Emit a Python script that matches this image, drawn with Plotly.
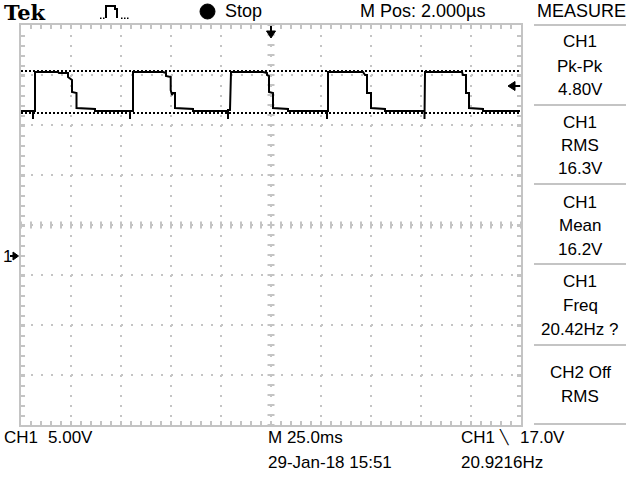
import plotly.graph_objects as go

# CH1 trace: time (ms from left edge of screen), volts (ground = 0 V)
wave_t = [0, 6.0, 6.0, 6.0, 7.0, 7.0, 18.5, 19.0, 23.5, 23.5, 25.5, 25.5, 27.75, 27.75, 37.0, 37.0,
          54.5, 54.5, 54.5, 56.0, 56.0,
          71.0, 72.5, 72.5, 74.85, 74.85, 75.5, 76.0, 77.0, 77.0, 86.0, 86.0,
          103.5, 103.5, 103.5, 104.5, 105.0,
          121.0, 123.0, 123.0, 124.0, 124.0, 125.5, 126.0, 126.0, 133.5, 133.5,
          153.0, 153.0, 153.0, 153.5, 153.5,
          171.0, 172.0, 173.0, 173.0, 174.5, 175.0, 175.0, 182.0, 182.0,
          201.75, 201.75, 201.75, 202.0, 202.0,
          220.5, 221.0, 222.5, 222.5, 223.5, 224.0, 224.0, 231.0, 231.0, 249.5]
wave_v = [14.5, 14.5, 13.7, 14.5, 14.5, 18.4, 18.4, 18.3, 18.3, 17.9, 17.6, 16.4, 16.3, 14.8, 14.7, 14.5,
          14.5, 13.7, 14.5, 14.5, 18.4,
          18.4, 18.3, 18.0, 17.9, 16.6, 16.1, 16.3, 16.3, 14.8, 14.7, 14.5,
          14.5, 13.7, 14.6, 14.6, 18.4,
          18.4, 18.3, 18.1, 18.0, 16.4, 16.3, 16.3, 14.8, 14.7, 14.5,
          14.5, 13.7, 14.5, 14.5, 18.4,
          18.4, 18.1, 18.1, 16.3, 16.3, 16.3, 14.8, 14.7, 14.5,
          14.5, 13.7, 14.5, 14.5, 18.4,
          18.4, 18.1, 18.1, 16.3, 16.3, 16.3, 14.8, 14.7, 14.5, 14.5]

cursor_levels = [18.5, 14.3]          # horizontal cursors (V)
trigger_time = 125.0                  # ms (screen centre)
trigger_level = 17.0                  # V
ground_level = 0.0                    # V

volts_per_div = 5.0
ms_per_div = 25.0
screen_ms = [0, 250]
screen_v = [-16.9, 23.1]

measure_titles = ["CH1", "CH1", "CH1", "CH1", "CH2 Off"]
measure_names = ["Pk-Pk", "RMS", "Mean", "Freq", "RMS"]
measure_values = ["4.80V", "16.3V", "16.2V", "20.42Hz ?", ""]

# ---------------- helpers (layout only) ----------------
L, T, W, H = 21, 25, 500, 400
def px(x):
    return (x - L) / W
def py(y):
    return (T + H - y) / H
V_PER_PX = volts_per_div / 50.0
MS_PER_PX = ms_per_div / 50.0

GRAT = "#c4c4c4"
FONT = "Liberation Sans, Arial, sans-serif"

fig = go.Figure()

# centre-line graticule ticks
centre_v = screen_v[0] + 4 * volts_per_div
fig.add_trace(go.Scatter(
    x=[trigger_time] * 41, y=[screen_v[0] + i for i in range(41)], mode="markers",
    marker=dict(symbol="line-ew", size=5, line=dict(color=GRAT, width=2)),
    hoverinfo="skip", showlegend=False))
fig.add_trace(go.Scatter(
    x=[i * 5 for i in range(51)], y=[centre_v] * 51, mode="markers",
    marker=dict(symbol="line-ns", size=5, line=dict(color=GRAT, width=2)),
    hoverinfo="skip", showlegend=False))

# cursors
for c in cursor_levels:
    fig.add_trace(go.Scatter(x=screen_ms, y=[c, c], mode="lines",
                             line=dict(color="black", width=2, dash="2px,2px"),
                             hoverinfo="skip", showlegend=False))

# waveform
fig.add_trace(go.Scatter(x=wave_t, y=wave_v, mode="lines",
                         line=dict(color="black", width=2),
                         hoverinfo="skip", showlegend=False))

axis_common = dict(showticklabels=False, showline=True, linecolor=GRAT, linewidth=2,
                   mirror="allticks", ticks="inside", ticklen=4, tickwidth=2, tickcolor=GRAT,
                   showgrid=True, gridcolor=GRAT, gridwidth=2, griddash="2px,8px",
                   zeroline=False, fixedrange=True)
fig.update_xaxes(range=screen_ms, tick0=0, dtick=ms_per_div,
                 minor=dict(dtick=5, ticks="inside", ticklen=4, tickwidth=2, tickcolor=GRAT, showgrid=False),
                 **axis_common)
fig.update_yaxes(range=screen_v, tick0=screen_v[0], dtick=volts_per_div,
                 minor=dict(dtick=1, ticks="inside", ticklen=4, tickwidth=2, tickcolor=GRAT, showgrid=False),
                 **axis_common)

anns = []
def text(t, x, y, anchor="left", size=17, family=FONT):
    anns.append(dict(text=t, x=px(x), y=py(y), xref="paper", yref="paper",
                     xanchor=anchor, yanchor="middle", showarrow=False,
                     font=dict(family=family, size=size, color="black")))

# top bar
text("<b>Tek</b>", 2, 12, size=21, family="DejaVu Serif, Liberation Serif, serif")
text("Stop", 223, 11, size=18)
text("M Pos: 2.000µs", 422, 11, anchor="center", size=18)
text("MEASURE", 581, 11, anchor="center", size=18)
# ground label
text("1", 1, 256)
# bottom bar
text("CH1", 2, 437)
text("5.00V", 46, 437)
text("M 25.0ms", 266, 437)
text("29-Jan-18 15:51", 266, 462)
text("CH1", 459, 437)
text("╲", 497, 437, size=14, family="DejaVu Sans, sans-serif")
text("17.0V", 518, 437)
text("20.9216Hz", 459, 462)

# measure panel
rows = [(41, 66, 89), (122, 145, 168), (202, 225, 249), (281, 305, 329), (372, 396, None)]
for (y1, y2, y3), t1, t2, t3 in zip(rows, measure_titles, measure_names, measure_values):
    text(t1, 580, y1, anchor="center")
    text(t2, 580, y2, anchor="center")
    if y3 is not None and t3:
        text(t3, 580, y3, anchor="center")

shapes = []
for yy in [25, 105, 184, 264, 345, 424]:
    shapes.append(dict(type="line", xref="paper", yref="paper",
                       x0=px(534), x1=px(626), y0=py(yy), y1=py(yy),
                       line=dict(color=GRAT, width=2)))

# trigger position marker: stem + triangle (x in ms, y in paper)
tx = trigger_time
shapes.append(dict(type="line", xref="x", yref="paper", x0=tx, x1=tx, y0=py(26), y1=py(32),
                   line=dict(color="black", width=2)))
shapes.append(dict(type="path", xref="x", yref="paper",
                   path=f"M {tx - 4.5 * MS_PER_PX},{py(31)} L {tx + 4.5 * MS_PER_PX},{py(31)} L {tx},{py(38)} Z",
                   fillcolor="black", line=dict(color="black", width=1)))
# trigger level marker (x in paper, y in volts)
tl = trigger_level
shapes.append(dict(type="line", xref="paper", yref="y", x0=px(514), x1=px(520), y0=tl, y1=tl,
                   line=dict(color="black", width=2)))
shapes.append(dict(type="path", xref="paper", yref="y",
                   path=f"M {px(508)},{tl} L {px(515)},{tl + 4.5 * V_PER_PX} L {px(515)},{tl - 4.5 * V_PER_PX} Z",
                   fillcolor="black", line=dict(color="black", width=1)))
# ground marker
g = ground_level
shapes.append(dict(type="line", xref="paper", yref="y", x0=px(10), x1=px(14), y0=g, y1=g,
                   line=dict(color="black", width=2)))
shapes.append(dict(type="path", xref="paper", yref="y",
                   path=f"M {px(18.5)},{g} L {px(13)},{g + 4 * V_PER_PX} L {px(13)},{g - 4 * V_PER_PX} Z",
                   fillcolor="black", line=dict(color="black", width=1)))

# Stop indicator dot
shapes.append(dict(type="circle", xref="paper", yref="paper",
                   x0=px(200), x1=px(215), y0=py(19), y1=py(4),
                   fillcolor="black", line=dict(color="black", width=1)))
# pulse icon
pts = [(106, 18), (106, 6), (115, 6), (115, 9), (117, 9), (117, 18)]
path = "M " + " L ".join(f"{px(a)},{py(b)}" for a, b in pts)
shapes.append(dict(type="path", xref="paper", yref="paper", path=path,
                   line=dict(color="black", width=2)))
for dx in [100, 103, 121, 124, 127]:
    shapes.append(dict(type="rect", xref="paper", yref="paper",
                       x0=px(dx), x1=px(dx + 1.5), y0=py(19), y1=py(17.5),
                       fillcolor="black", line=dict(width=0)))

fig.update_layout(width=640, height=480, margin=dict(l=L, r=640 - L - W, t=T, b=480 - T - H),
                  paper_bgcolor="white", plot_bgcolor="white",
                  font=dict(family=FONT, size=17, color="black"),
                  annotations=anns, shapes=shapes, showlegend=False)

fig.write_html("out.html", config={"displayModeBar": False},
               post_script="document.body.style.margin='0px';document.body.style.overflow='hidden';")
